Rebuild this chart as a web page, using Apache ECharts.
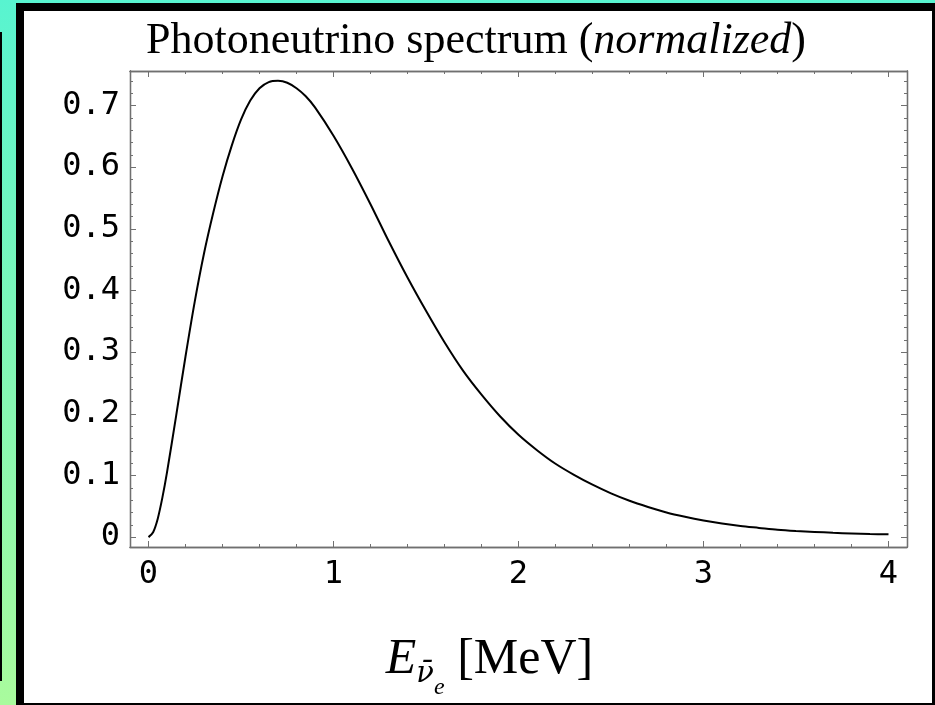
<!DOCTYPE html>
<html><head><meta charset="utf-8">
<script src="https://cdn.jsdelivr.net/npm/echarts@6/dist/echarts.min.js"></script>
<style>
html,body{margin:0;padding:0;width:935px;height:705px;overflow:hidden;}
body{background:linear-gradient(to bottom,#58f4d0 0%,#a9fb9d 100%);position:relative;}
#edge{position:absolute;left:0;top:32px;width:2px;height:649px;background:#000;}
#frame{position:absolute;left:16px;top:3px;width:919px;height:702px;background:#000;}
#panel{position:absolute;left:24px;top:11px;width:908px;height:692px;background:#fff;}
#chart{position:absolute;left:0;top:0;width:935px;height:705px;}
</style></head><body>
<div id="edge"></div><div id="frame"></div><div id="panel"></div><div id="chart"></div>
<script>
// Photoneutrino spectrum (normalized)
const energyMeV = [0, 0.025, 0.05, 0.075, 0.1, 0.15, 0.2, 0.25, 0.3, 0.35, 0.4, 0.45, 0.5, 0.55, 0.6, 0.65, 0.7, 0.75, 0.8, 0.85, 0.9,
  1.0, 1.1, 1.2, 1.3, 1.4, 1.5, 1.6, 1.7, 1.8, 1.9, 2.0, 2.1, 2.2, 2.3, 2.4, 2.5, 2.6, 2.7, 2.8, 2.9,
  3.0, 3.1, 3.2, 3.3, 3.4, 3.5, 3.6, 3.7, 3.8, 3.9, 4.0];
const spectrum = [0, 0.008, 0.030, 0.064, 0.105, 0.198, 0.293, 0.382, 0.460, 0.526, 0.585, 0.635, 0.677, 0.708, 0.728, 0.738, 0.740, 0.737, 0.728, 0.715, 0.697,
  0.651, 0.598, 0.540, 0.479, 0.421, 0.367, 0.316, 0.270, 0.231, 0.196, 0.166, 0.141, 0.119, 0.101, 0.085, 0.071, 0.059, 0.049, 0.040, 0.033,
  0.027, 0.022, 0.018, 0.015, 0.012, 0.010, 0.0085, 0.007, 0.006, 0.005, 0.0045];
const xMajorTicks = [0, 1, 2, 3, 4];
const xMinorTicks = [0.2, 0.4, 0.6, 0.8, 1.2, 1.4, 1.6, 1.8, 2.2, 2.4, 2.6, 2.8, 3.2, 3.4, 3.6, 3.8];
const yMajorTicks = [0, 0.1, 0.2, 0.3, 0.4, 0.5, 0.6, 0.7];
const yMinorTicks = [0.02, 0.04, 0.06, 0.08, 0.12, 0.14, 0.16, 0.18, 0.22, 0.24, 0.26, 0.28, 0.32, 0.34, 0.36, 0.38,
  0.42, 0.44, 0.46, 0.48, 0.52, 0.54, 0.56, 0.58, 0.62, 0.64, 0.66, 0.68, 0.72, 0.74];
const titleText = ['Photoneutrino spectrum (', 'normalized', ')'];
const xName = { sym: 'E', sub: 'ν̄', subsub: 'e', unit: '[MeV]' };

const X_MIN = -0.1, X_MAX = 4.1, Y_MIN = -0.016, Y_MAX = 0.756;
const AX = '#707070';
const monoLabel = { fontFamily: 'DejaVu Sans Mono', fontSize: 32, color: '#000' };

function xAxisDef(pos, ticks, len, withLabels, extra) {
  return Object.assign({
    type: 'value', position: pos, min: X_MIN, max: X_MAX, gridIndex: 0,
    axisLine: { show: true, onZero: false, lineStyle: { color: AX, width: 1.3 } },
    axisTick: { show: true, inside: true, length: len, customValues: ticks, lineStyle: { color: AX, width: 1 } },
    axisLabel: withLabels ? Object.assign({ show: true, customValues: ticks, margin: 12 }, monoLabel) : { show: false },
    splitLine: { show: false }, minorTick: { show: false }
  }, extra || {});
}
function yAxisDef(pos, ticks, len, withLabels) {
  return {
    type: 'value', position: pos, min: Y_MIN, max: Y_MAX, gridIndex: 0,
    axisLine: { show: true, onZero: false, lineStyle: { color: AX, width: 1.3 } },
    axisTick: { show: true, inside: true, length: len, customValues: ticks, lineStyle: { color: AX, width: 1 } },
    axisLabel: withLabels ? Object.assign({ show: true, customValues: ticks, margin: 10 }, monoLabel) : { show: false },
    splitLine: { show: false }, minorTick: { show: false }
  };
}

const chart = echarts.init(document.getElementById('chart'), null, { renderer: 'canvas' });
chart.setOption({
  backgroundColor: 'transparent',
  animation: false,
  title: {
    text: '{r|' + titleText[0] + '}{i|' + titleText[1] + '}{r|' + titleText[2] + '}',
    left: 476, top: 19, padding: 0, textAlign: 'center',
    textStyle: {
      fontWeight: 'normal',
      rich: {
        r: { fontFamily: 'Liberation Serif', fontSize: 44, fontWeight: 'normal', color: '#000' },
        i: { fontFamily: 'Liberation Serif', fontSize: 44, fontWeight: 'normal', fontStyle: 'italic', color: '#000' }
      }
    }
  },
  grid: { left: 130, right: 28, top: 71, bottom: 156, containLabel: false },
  xAxis: [
    xAxisDef('bottom', xMajorTicks, 6, true, {
      name: '{e|' + xName.sym + '}{s|' + xName.sub + '}{ss|' + xName.subsub + '}{u| ' + xName.unit + '}',
      nameLocation: 'middle', nameGap: 88,
      nameTextStyle: {
        padding: [0, 58, 0, 0],
        rich: {
          e: { fontFamily: 'Liberation Serif', fontStyle: 'italic', fontSize: 50, color: '#000', verticalAlign: 'top', padding: [0, 0, 0, 0] },
          s: { fontFamily: 'DejaVu Serif', fontStyle: 'italic', fontSize: 29, color: '#000', verticalAlign: 'top', padding: [25, 0, 0, 0] },
          ss: { fontFamily: 'Liberation Serif', fontStyle: 'italic', fontSize: 24, color: '#000', verticalAlign: 'top', padding: [41, 0, 0, 0] },
          u: { fontFamily: 'Liberation Serif', fontSize: 50, color: '#000', verticalAlign: 'top', padding: [0, 0, 0, 0] }
        }
      }
    }),
    xAxisDef('bottom', xMinorTicks, 3, false),
    xAxisDef('top', xMajorTicks, 6, false),
    xAxisDef('top', xMinorTicks, 3, false)
  ],
  yAxis: [
    yAxisDef('left', yMajorTicks, 6, true),
    yAxisDef('left', yMinorTicks, 3, false),
    yAxisDef('right', yMajorTicks, 6, false),
    yAxisDef('right', yMinorTicks, 3, false)
  ],
  series: [{
    type: 'line', xAxisIndex: 0, yAxisIndex: 0,
    data: energyMeV.map((e, i) => [e, spectrum[i]]),
    smooth: 0.3, showSymbol: false, symbol: 'none',
    lineStyle: { color: '#000', width: 2 }
  }]
});
</script>
</body></html>
